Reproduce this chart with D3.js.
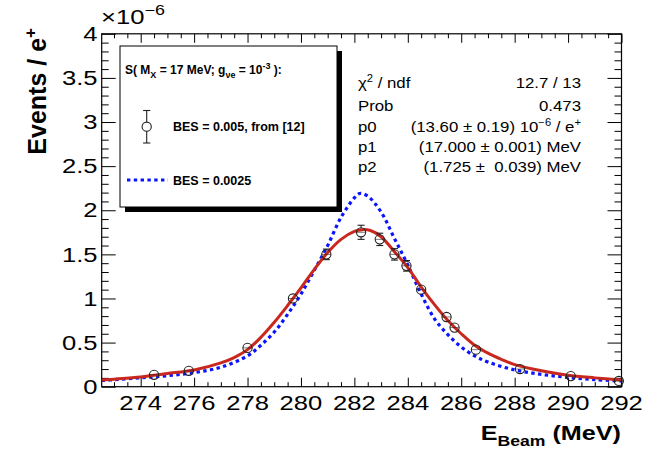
<!DOCTYPE html>
<html><head><meta charset="utf-8">
<script src="https://cdn.jsdelivr.net/npm/d3@7"></script>
<style>
html,body{margin:0;padding:0;background:#fff;}
svg{display:block;}
text{font-family:"Liberation Sans",Arial,Helvetica,sans-serif;white-space:pre;}
</style></head>
<body>
<svg id="c" width="657" height="452"></svg>
<script>
// ---------------- data ----------------
const xTicksMajor = [274, 276, 278, 280, 282, 284, 286, 288, 290, 292];
const yTicksMajor = [0, 0.5, 1, 1.5, 2, 2.5, 3, 3.5, 4];
const yTickLabels = ["0", "0.5", "1", "1.5", "2", "2.5", "3", "3.5", "4"];

const pointE   = [274.5, 275.8, 278.0, 279.7, 280.95, 282.25, 282.95, 283.5, 283.95, 284.5, 285.45, 285.75, 286.55, 288.2, 290.1, 291.9];
const pointY   = [0.135, 0.18, 0.44, 1.00, 1.50, 1.75, 1.67, 1.50, 1.37, 1.10, 0.79, 0.67, 0.42, 0.20, 0.12, 0.065];
const pointErr = [0.02, 0.02, 0.03, 0.04, 0.06, 0.08, 0.07, 0.065, 0.06, 0.05, 0.04, 0.04, 0.03, 0.02, 0.02, 0.015];

const fitE = [272.54, 273, 274, 274.5, 275, 276, 277, 277.5, 278, 278.5, 279, 279.5, 280, 280.5, 281, 281.5, 282, 282.3, 282.6, 283, 283.5, 284, 284.5, 285, 285.5, 286, 286.5, 287, 287.5, 288, 289, 290, 291, 292];
const fitY = [0.075, 0.085, 0.11, 0.13, 0.15, 0.19, 0.27, 0.33, 0.42, 0.56, 0.73, 0.92, 1.12, 1.33, 1.52, 1.67, 1.76, 1.78, 1.77, 1.70, 1.53, 1.35, 1.13, 0.93, 0.75, 0.60, 0.47, 0.38, 0.31, 0.25, 0.18, 0.13, 0.10, 0.075];

const besE = [272.54, 273, 274, 275, 276, 277, 278, 278.5, 279, 279.5, 280, 280.5, 281, 281.5, 282, 282.2, 282.5, 283, 283.5, 284, 284.5, 285, 285.5, 286, 286.5, 287, 288, 289, 290, 291, 292];
const besY = [0.07, 0.08, 0.10, 0.125, 0.16, 0.22, 0.35, 0.47, 0.62, 0.82, 1.05, 1.32, 1.60, 1.92, 2.14, 2.19, 2.16, 1.98, 1.68, 1.38, 1.05, 0.77, 0.59, 0.45, 0.35, 0.28, 0.19, 0.14, 0.105, 0.08, 0.065];

const statsLabels = ["χ² / ndf", "Prob", "p0", "p1", "p2"];
const legendTitle = "S( M_X = 17 MeV; g_νe = 10^-3 ):";
const legendEntries = ["BES = 0.005, from [12]", "BES = 0.0025"];

// ---------------- layout ----------------
const svg = d3.select("#c");
const L = 101.7, R = 621.5, T = 33.8, B = 386.7;
const x = d3.scaleLinear().domain([272.54, 292]).range([L, R]);
const y = d3.scaleLinear().domain([0, 4]).range([B, T]);
const FONT = '"Liberation Sans",Arial,Helvetica,sans-serif';

function stxt(parent, px, py, sx, size, weight, anchor) {
  const g = parent.append("g").attr("transform", `translate(${px},${py}) scale(${sx},1)`);
  return g.append("text").attr("x", 0).attr("y", 0)
    .attr("font-size", size).attr("font-weight", weight || "normal")
    .attr("text-anchor", anchor || "start").attr("fill", "#000");
}

// ---------------- axes (ticks inside) ----------------
const minorX = d3.range(273, 292.01, 0.5).filter(v => xTicksMajor.indexOf(v) < 0);
const minorY = d3.range(0, 4.001, 0.1).map(v => +v.toFixed(2)).filter(v => Math.abs(v*2 - Math.round(v*2)) > 1e-6);

function axisG(axis, tx, ty) {
  const g = svg.append("g").attr("transform", `translate(${tx},${ty})`).call(axis);
  g.select(".domain").remove();
  g.selectAll("line").attr("stroke", "#000").attr("stroke-width", 1);
  return g;
}
axisG(d3.axisBottom(x).tickValues(xTicksMajor).tickSize(-9).tickFormat(""), 0, B);
axisG(d3.axisBottom(x).tickValues(minorX).tickSize(-4.5).tickFormat(""), 0, B);
axisG(d3.axisTop(x).tickValues(xTicksMajor).tickSize(-9).tickFormat(""), 0, T);
axisG(d3.axisTop(x).tickValues(minorX).tickSize(-4.5).tickFormat(""), 0, T);
axisG(d3.axisLeft(y).tickValues(yTicksMajor).tickSize(-14).tickFormat(""), L, 0);
axisG(d3.axisLeft(y).tickValues(minorY).tickSize(-7).tickFormat(""), L, 0);
axisG(d3.axisRight(y).tickValues(yTicksMajor).tickSize(-14).tickFormat(""), R, 0);
axisG(d3.axisRight(y).tickValues(minorY).tickSize(-7).tickFormat(""), R, 0);

svg.append("rect").attr("x", L).attr("y", T).attr("width", R - L).attr("height", B - T)
  .attr("fill", "none").attr("stroke", "#000").attr("stroke-width", 1.2);

// tick labels
xTicksMajor.forEach(v => {
  stxt(svg, x(v), 409.5, 1.28, 20, "normal", "middle").text(String(v));
});
yTicksMajor.forEach((v, i) => {
  stxt(svg, 97.5, y(v) + 7.2, 1.28, 20, "normal", "end").text(yTickLabels[i]);
});
// exponent
{
  const t = stxt(svg, 101, 24, 1.28, 20, "normal", "start");
  t.append("tspan").text("×10");
  t.append("tspan").attr("font-size", 14).attr("dy", -9).text("−6");
}

// axis titles
{
  const t = stxt(svg, 621, 439.5, 1.26, 20, "bold", "end");
  t.append("tspan").text("E");
  t.append("tspan").attr("font-size", 14).attr("dy", 6).text("Beam");
  t.append("tspan").attr("dy", -6).text(" (MeV)");
}
{
  const g = svg.append("g").attr("transform", "translate(45.5,28) rotate(-90)");
  const t = g.append("text").attr("text-anchor", "end").attr("font-size", 25).attr("font-weight", "bold");
  t.append("tspan").text("Events / e");
  t.append("tspan").attr("font-size", 17).attr("dy", -10).text("+");
}

// ---------------- curves ----------------
const line = d3.line().x(d => x(d[0])).y(d => y(d[1])).curve(d3.curveCatmullRom.alpha(0.5));
const clip = svg.append("clipPath").attr("id", "fr").append("rect")
  .attr("x", L).attr("y", T).attr("width", R - L).attr("height", B - T);

svg.append("path").attr("clip-path", "url(#fr)")
  .attr("d", line(besE.map((e, i) => [e, besY[i]])))
  .attr("fill", "none").attr("stroke", "#0a14ff").attr("stroke-width", 3.2)
  .attr("stroke-dasharray", "3.4,3.4");

svg.append("path").attr("clip-path", "url(#fr)")
  .attr("d", line(fitE.map((e, i) => [e, fitY[i]])))
  .attr("fill", "none").attr("stroke", "#c8281e").attr("stroke-width", 3);

// ---------------- points ----------------
const MR = 4.6;
function marker(g, cx, cy, yl, yh, cap) {
  if (yl > cy + MR) {
    g.append("line").attr("x1", cx).attr("x2", cx).attr("y1", cy + MR).attr("y2", yl);
    g.append("line").attr("x1", cx - cap).attr("x2", cx + cap).attr("y1", yl).attr("y2", yl);
  }
  if (yh < cy - MR) {
    g.append("line").attr("x1", cx).attr("x2", cx).attr("y1", cy - MR).attr("y2", yh);
    g.append("line").attr("x1", cx - cap).attr("x2", cx + cap).attr("y1", yh).attr("y2", yh);
  }
  g.append("circle").attr("cx", cx).attr("cy", cy).attr("r", MR)
    .attr("fill", "none").attr("stroke", "#222").attr("stroke-width", 1.1);
}
const pg = svg.append("g").attr("stroke", "#222").attr("stroke-width", 1.1);
pointE.forEach((e, i) => {
  marker(pg, x(e), y(pointY[i]), y(pointY[i] - pointErr[i]), y(pointY[i] + pointErr[i]), 3.5);
  // horizontal bar of cross visible through circle
  pg.append("line").attr("x1", x(e) - MR).attr("x2", x(e) + MR).attr("y1", y(pointY[i])).attr("y2", y(pointY[i]))
    .attr("stroke-width", 0.6);
});

// ---------------- legend ----------------
const LX = 120, LY = 46, LW = 217, LH = 161;
svg.append("rect").attr("x", LX + 5).attr("y", LY + 5).attr("width", LW).attr("height", LH).attr("fill", "#000");
svg.append("rect").attr("x", LX).attr("y", LY).attr("width", LW).attr("height", LH)
  .attr("fill", "#fff").attr("stroke", "#000").attr("stroke-width", 1);
{
  const t = stxt(svg, 125, 74, 1.0, 12, "bold", "start");
  t.append("tspan").text("S( M");
  t.append("tspan").attr("font-size", 9).attr("dy", 4).text("X");
  t.append("tspan").attr("dy", -4).text(" = 17 MeV; g");
  t.append("tspan").attr("font-size", 9).attr("dy", 4).text("νe");
  t.append("tspan").attr("dy", -4).text(" = 10");
  t.append("tspan").attr("font-size", 9).attr("dy", -5).text("-3");
  t.append("tspan").attr("dy", 5).text(" ):");
}
{
  const lg = svg.append("g").attr("stroke", "#222").attr("stroke-width", 1.1);
  marker(lg, 146.7, 126.7, 143, 110.5, 3.6);
  stxt(svg, 173, 131, 1.0, 12.5, "bold", "start").text(legendEntries[0]);
  svg.append("line").attr("x1", 127).attr("x2", 168).attr("y1", 180).attr("y2", 180)
    .attr("stroke", "#0a14ff").attr("stroke-width", 3.2).attr("stroke-dasharray", "3.4,3.4");
  stxt(svg, 173, 185, 1.0, 12.5, "bold", "start").text(legendEntries[1]);
}

// ---------------- stats box ----------------
const sBase = [88, 110.5, 132, 152, 172];
const SX = 1.12, SF = 15;
stxt(svg, 358, sBase[0], SX, SF, "normal", "start").call(t => {
  t.append("tspan").text("χ");
  t.append("tspan").attr("font-size", 10).attr("dy", -6).text("2");
  t.append("tspan").attr("dy", 6).text(" / ndf");
});
statsLabels.slice(1).forEach((s, i) => stxt(svg, 358, sBase[i + 1], SX, SF, "normal", "start").text(s));
stxt(svg, 581, sBase[0], SX, SF, "normal", "end").text("12.7 / 13");
stxt(svg, 581, sBase[1], SX, SF, "normal", "end").text("0.473");
stxt(svg, 581, sBase[2], SX, SF, "normal", "end").call(t => {
  t.append("tspan").text("(13.60 ± 0.19) 10");
  t.append("tspan").attr("font-size", 10).attr("dy", -6).text("−6");
  t.append("tspan").attr("dy", 6).text(" / e");
  t.append("tspan").attr("font-size", 10).attr("dy", -6).text("+");
});
stxt(svg, 581, sBase[3], SX, SF, "normal", "end").text("(17.000 ± 0.001) MeV");
stxt(svg, 581, sBase[4], SX, SF, "normal", "end").text("(1.725 ±  0.039) MeV");
</script>
</body></html>
